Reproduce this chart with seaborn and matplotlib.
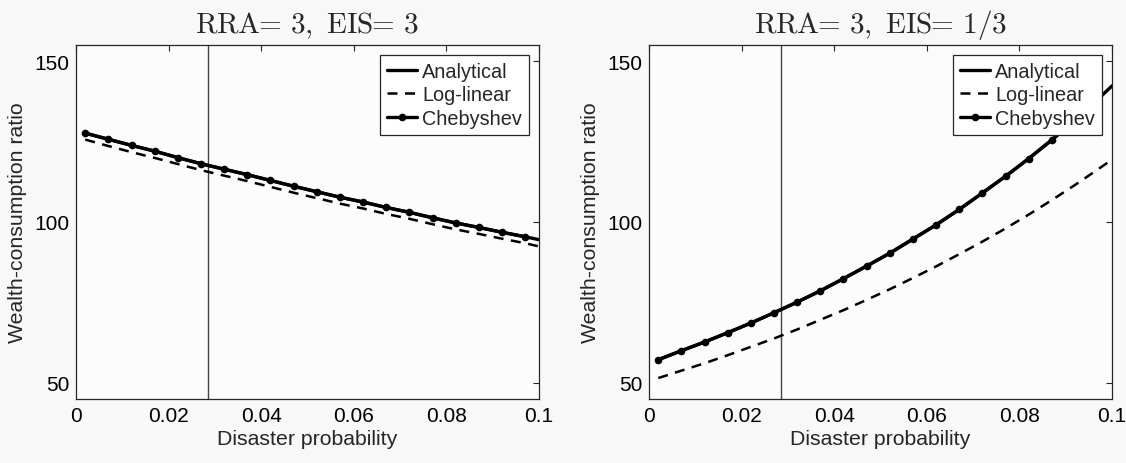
import seaborn as sns
import pandas as pd
from matplotlib import pyplot as plt

# disaster probability grid (Chebyshev nodes drawn every 0.005)
prob = [0.002, 0.007, 0.012, 0.017, 0.022, 0.027, 0.032, 0.037, 0.042, 0.047,
        0.052, 0.057, 0.062, 0.067, 0.072, 0.077, 0.082, 0.087, 0.092, 0.097, 0.1]
cheb_prob = prob[:-1]
p_bar = 0.0286

# RRA=3, EIS=3
analytical_a = [127.6, 125.7, 123.8, 122.0, 120.0, 118.1, 116.4, 114.7, 112.9, 111.1,
                109.4, 107.7, 106.2, 104.5, 103.0, 101.3, 99.7, 98.3, 96.8, 95.4, 94.5]
loglin_a = [125.6, 123.6, 121.7, 119.9, 118.0, 116.1, 114.4, 112.7, 110.9, 109.1,
            107.4, 105.7, 104.2, 102.5, 101.0, 99.3, 97.7, 96.3, 94.8, 93.4, 92.4]
cheb_a = [127.6, 125.7, 123.8, 122.0, 120.0, 118.1, 116.4, 114.7, 112.9, 111.1,
          109.4, 107.7, 106.2, 104.5, 103.0, 101.3, 99.7, 98.3, 96.8, 95.4]

# RRA=3, EIS=1/3
analytical_b = [57.2, 60.0, 62.7, 65.6, 68.6, 71.8, 75.1, 78.6, 82.4, 86.3,
                90.3, 94.7, 99.1, 103.9, 109.0, 114.2, 119.7, 125.5, 131.7, 138.2, 142.3]
loglin_b = [51.5, 53.8, 56.1, 58.6, 61.2, 63.8, 66.6, 69.6, 72.6, 75.8,
            79.1, 82.6, 86.2, 90.0, 93.9, 98.0, 102.3, 106.8, 111.5, 116.4, 119.4]
cheb_b = [57.2, 60.0, 62.7, 65.6, 68.6, 71.8, 75.1, 78.6, 82.4, 86.3,
          90.3, 94.7, 99.1, 103.9, 109.0, 114.2, 119.7, 125.5, 131.7, 138.2]

titles = [r'$\mathrm{RRA}\hspace{-0.26}=\,3,\ \mathrm{EIS}\hspace{-0.26}=\,3$',
          r'$\mathrm{RRA}\hspace{-0.26}=\,3,\ \mathrm{EIS}\hspace{-0.26}=\,1/3$']

sns.set_theme(style='white')
plt.rcParams['font.family'] = ['Liberation Sans', 'DejaVu Sans']
plt.rcParams['mathtext.fontset'] = 'cm'

fig = plt.figure(figsize=(11.26, 4.64), dpi=100, facecolor='#f8f8f8')
axes = [fig.add_axes([0.0675, 0.138, 0.4112, 0.7629]),
        fig.add_axes([0.5764, 0.138, 0.4112, 0.7629])]

panels = [(analytical_a, loglin_a, cheb_a), (analytical_b, loglin_b, cheb_b)]
for ax, (an, ll, ch), title in zip(axes, panels, titles):
    ax.set_facecolor('#fcfcfc')
    ax.axvline(p_bar, color='#444444', lw=1.0, zorder=1)
    sns.lineplot(x=prob, y=an, ax=ax, color='black', lw=2.4, label='Analytical')
    sns.lineplot(x=prob, y=ll, ax=ax, color='black', lw=1.8, linestyle=(0, (4, 3)),
                 label='Log-linear')
    sns.lineplot(x=cheb_prob, y=ch, ax=ax, color='black', lw=2.4, marker='o',
                 markersize=5.5, markeredgewidth=0, label='Chebyshev')
    ax.set_xlim(0, 0.1)
    ax.set_ylim(45, 155)
    ax.set_xticks([0, 0.02, 0.04, 0.06, 0.08, 0.1])
    ax.set_xticklabels(['0', '0.02', '0.04', '0.06', '0.08', '0.1'])
    ax.set_yticks([50, 100, 150])
    ax.tick_params(direction='in', length=4, width=0.8, top=True, right=True,
                   labelsize=15, colors='#262626', pad=5)
    ax.tick_params(labelcolor='black')
    for s in ax.spines.values():
        s.set_color('#262626')
        s.set_linewidth(0.9)
    ax.set_xlabel('Disaster probability', fontsize=15.3, labelpad=3)
    ax.set_ylabel('Wealth-consumption ratio', fontsize=15.3, labelpad=5)
    ax.set_title(title, fontsize=21, pad=9)
    leg = ax.legend(loc='upper right', fontsize=14.3, frameon=True, fancybox=False,
                    edgecolor='#262626', framealpha=1, handlelength=1.55,
                    handletextpad=0.25, borderpad=0.35, labelspacing=0.22,
                    borderaxespad=0.5)
    leg.get_frame().set_linewidth(0.9)

fig.savefig('out.png', dpi=100, facecolor=fig.get_facecolor())
